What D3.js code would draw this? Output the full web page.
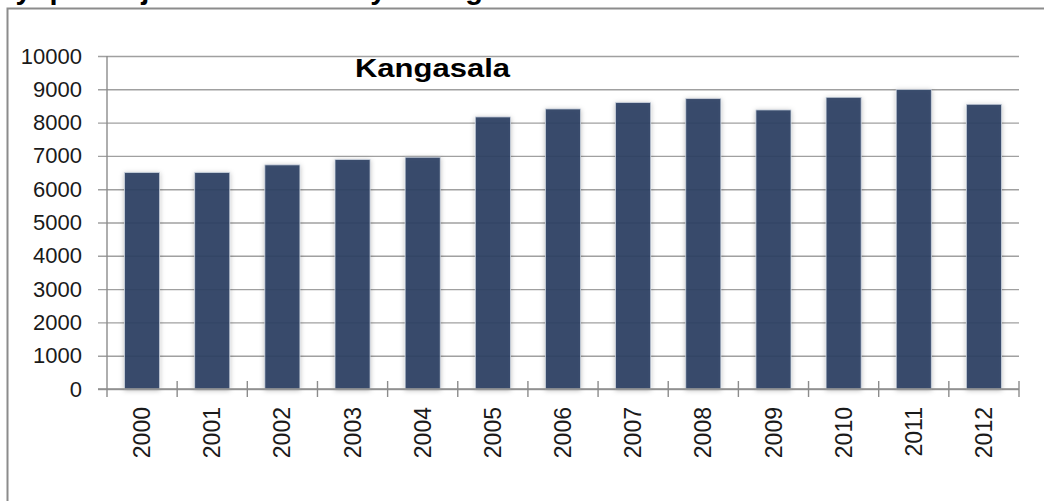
<!DOCTYPE html>
<html lang="fi">
<head>
    <meta charset="UTF-8">
    <title>Kangasala</title>
    <script src="https://d3js.org/d3.v7.min.js"></script>
    <style>
        body { margin: 0; background: #fff; }
        svg { display: block; font-family: "Liberation Sans", Arial, sans-serif; }
    </style>
</head>
<body>
    <div id="chart"></div>

    <script>
        // values
        const years = ["2000", "2001", "2002", "2003", "2004", "2005", "2006",
                       "2007", "2008", "2009", "2010", "2011", "2012"];
        const jobs = [6500, 6500, 6730, 6890, 6960, 8170, 8410,
                      8600, 8720, 8380, 8760, 8990, 8550];
        const yTicks = [0, 1000, 2000, 3000, 4000, 5000, 6000, 7000, 8000, 9000, 10000];
        const chartTitle = "Kangasala";
        const pageTitle = "Työpaikkojen määrän kehitys Kangasalla 2000–2012";

        const width = 1044, height = 501;
        const plotLeft = 107, plotRight = 1019, plotTop = 56, plotBottom = 389;

        const svg = d3.select("#chart").append("svg")
            .attr("width", width)
            .attr("height", height);

        const defs = svg.append("defs");
        defs.append("filter")
            .attr("id", "shadow")
            .attr("x", "-40%").attr("y", "-10%")
            .attr("width", "180%").attr("height", "120%")
            .append("feDropShadow")
            .attr("dx", 0).attr("dy", 1)
            .attr("stdDeviation", 2.6)
            .attr("flood-color", "#000")
            .attr("flood-opacity", 0.28);

        // page heading, only its descenders show at the top edge
        svg.append("text")
            .attr("x", 0)
            .attr("y", -1)
            .style("font-size", "29px")
            .style("font-weight", "bold")
            .attr("fill", "#000")
            .text(pageTitle);

        // chart frame (runs past right and bottom edge)
        svg.append("rect")
            .attr("x", 7.5).attr("y", 8.5)
            .attr("width", 1100).attr("height", 600)
            .attr("fill", "none")
            .attr("stroke", "#8c8c8c")
            .attr("stroke-width", 2);

        const x = d3.scaleBand()
            .domain(years)
            .range([plotLeft, plotRight])
            .paddingInner(0.5)
            .paddingOuter(0.25);

        const y = d3.scaleLinear()
            .domain([0, 10000])
            .range([plotBottom, plotTop]);

        // gridlines + y labels
        const yAxis = svg.append("g")
            .attr("transform", `translate(${plotLeft},0)`)
            .call(d3.axisLeft(y)
                .tickValues(yTicks)
                .tickFormat(d3.format("d"))
                .tickSizeInner(-(plotRight - plotLeft))
                .tickSizeOuter(0)
                .tickPadding(25));
        yAxis.select(".domain").remove();
        yAxis.selectAll(".tick line")
            .attr("x1", -9)
            .attr("stroke", "#a0a0a0")
            .attr("stroke-width", 1.4);
        yAxis.selectAll(".tick text")
            .attr("fill", "#1a1a1a")
            .style("font-size", "22px");

        // bars
        svg.append("g")
            .selectAll("rect")
            .data(jobs)
            .join("rect")
            .attr("x", (d, i) => x(years[i]))
            .attr("y", d => y(d))
            .attr("width", x.bandwidth())
            .attr("height", d => y(0) - y(d))
            .attr("fill", "#2a3f63")
            .attr("fill-opacity", 0.92)
            .attr("stroke", "#c9d1dc")
            .attr("stroke-width", 0.8)
            .attr("filter", "url(#shadow)");

        // y axis line
        svg.append("line")
            .attr("x1", plotLeft).attr("x2", plotLeft)
            .attr("y1", plotTop).attr("y2", plotBottom + 8)
            .attr("stroke", "#8c8c8c")
            .attr("stroke-width", 1.4);

        // x axis with labels
        const xAxis = svg.append("g")
            .attr("transform", `translate(0,${plotBottom})`)
            .call(d3.axisBottom(x).tickSize(0).tickPadding(0));
        xAxis.select(".domain")
            .attr("d", `M${plotLeft - 9},0H${plotRight}`)
            .attr("stroke", "#8c8c8c")
            .attr("stroke-width", 1.4);
        xAxis.selectAll(".tick text")
            .attr("transform", "rotate(-90)")
            .attr("x", -18)
            .attr("y", 0)
            .attr("dy", "0.35em")
            .attr("text-anchor", "end")
            .attr("fill", "#1a1a1a")
            .style("font-size", "23px");

        // category boundary ticks
        const bounds = years.map((yr, i) => plotLeft + (i + 1) * x.step());
        xAxis.append("g")
            .selectAll("line")
            .data(bounds)
            .join("line")
            .attr("x1", d => d).attr("x2", d => d)
            .attr("y1", -8).attr("y2", 8)
            .attr("stroke", "#8c8c8c")
            .attr("stroke-width", 1.4);

        // chart title
        svg.append("text")
            .attr("x", 355)
            .attr("y", 77)
            .attr("textLength", 155)
            .attr("lengthAdjust", "spacingAndGlyphs")
            .style("font-size", "26px")
            .style("font-weight", "bold")
            .attr("fill", "#000")
            .text(chartTitle);
    </script>
</body>
</html>
